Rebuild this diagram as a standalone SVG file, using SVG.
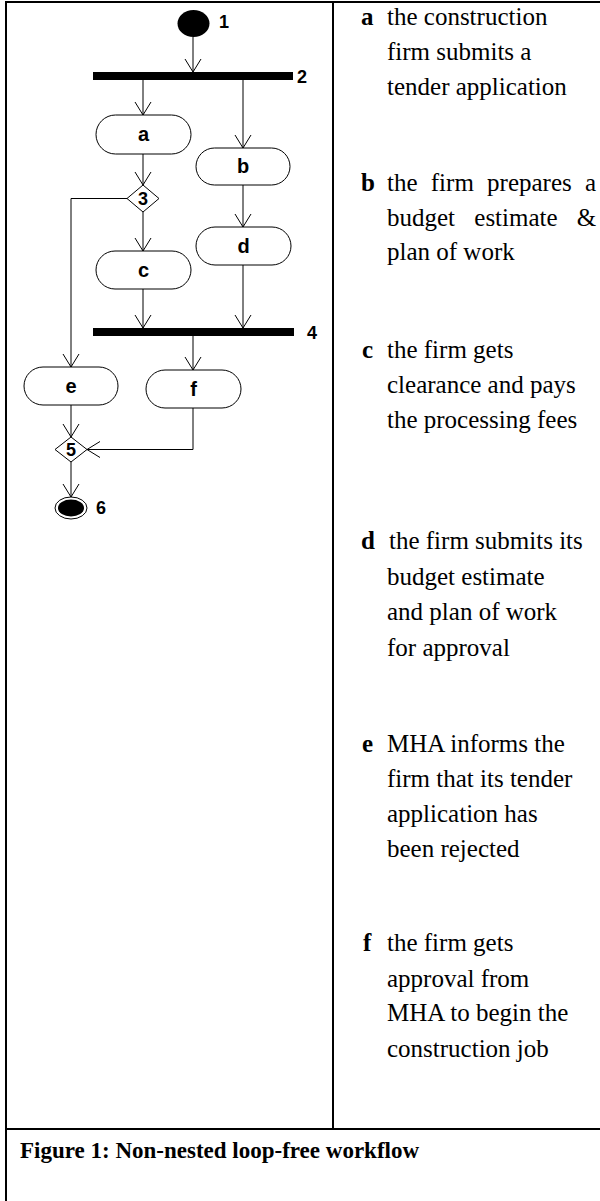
<svg xmlns="http://www.w3.org/2000/svg" width="600" height="1201" viewBox="0 0 600 1201">
<defs>
<marker id="arr" markerUnits="userSpaceOnUse" markerWidth="30" markerHeight="30" refX="0" refY="0" orient="auto" overflow="visible">
<path d="M-13,-8 L0,0 L-13,8" fill="none" stroke="#000" stroke-width="1"/>
</marker>
</defs>
<style>
.frame{stroke:#000;stroke-width:2;fill:none}
.act{fill:#fff;stroke:#000;stroke-width:1}
.bar{fill:#000}
.dia{fill:#fff;stroke:#000;stroke-width:1}
.lbl{font-family:"Liberation Sans",Arial,sans-serif;font-weight:bold;font-size:18px;fill:#000}
.nl{font-family:"Liberation Sans",Arial,sans-serif;font-weight:bold;font-size:20px;fill:#000;text-anchor:middle}
.mid{text-anchor:middle}
.conn path{fill:none;stroke:#000;stroke-width:1;marker-end:url(#arr)}
.body{font-family:"Liberation Serif","Times New Roman",serif;font-size:25px;fill:#000}
.key{font-weight:bold}
.cap{font-family:"Liberation Serif","Times New Roman",serif;font-size:23px;font-weight:bold;fill:#000}
</style>
<rect x="0" y="0" width="600" height="1201" fill="#fff"/>
<g id="frame">
<line class="frame" x1="6" y1="2" x2="600" y2="2"/>
<line class="frame" x1="6" y1="1" x2="6" y2="1201"/>
<line class="frame" x1="333" y1="2" x2="333" y2="1129"/>
<line class="frame" x1="6" y1="1129" x2="600" y2="1129"/>
</g>
<g class="conn" id="connectors">
<path d="M193,37 L193,72"/>
<path d="M143,80 L143,115"/>
<path d="M243,80 L243,148"/>
<path d="M143,154 L143,185"/>
<path d="M127,198.5 L71,198.5 L71,367"/>
<path d="M143,212 L143,251"/>
<path d="M243,185 L243,227"/>
<path d="M143,289 L143,328"/>
<path d="M243,265 L243,328"/>
<path d="M193,336 L193,370"/>
<path d="M71,405 L71,437"/>
<path d="M193,408 L193,449.5 L87,449.5"/>
<path d="M71,462 L71,497"/>
</g>
<g id="n1"><ellipse cx="193.5" cy="23.5" rx="16" ry="13.5" fill="#000"/><text class="lbl" x="219" y="28">1</text></g>
<g id="n2"><rect class="bar" x="93" y="72" width="200" height="8"/><text class="lbl" x="297" y="83">2</text></g>
<g id="na"><rect class="act" x="96" y="115" width="95" height="39" rx="19.5"/><text class="nl" x="143.5" y="141">a</text></g>
<g id="nb"><rect class="act" x="196" y="148" width="94" height="37" rx="18.5"/><text class="nl" x="243" y="173">b</text></g>
<g id="n3"><polygon class="dia" points="143,185 159,198.5 143,212 127,198.5"/><text class="lbl mid" x="143" y="205">3</text></g>
<g id="nc"><rect class="act" x="96" y="251" width="95" height="38" rx="19"/><text class="nl" x="143.5" y="277">c</text></g>
<g id="nd"><rect class="act" x="196" y="227" width="95" height="38" rx="19"/><text class="nl" x="243.5" y="253">d</text></g>
<g id="n4"><rect class="bar" x="93" y="328" width="201" height="8"/><text class="lbl" x="307" y="339">4</text></g>
<g id="ne"><rect class="act" x="24" y="367" width="94" height="38" rx="19"/><text class="nl" x="71" y="393">e</text></g>
<g id="nf"><rect class="act" x="146" y="370" width="95" height="38" rx="19"/><text class="nl" x="193.5" y="396">f</text></g>
<g id="n5"><polygon class="dia" points="71,437 87,449.5 71,462 55,449.5"/><text class="lbl mid" x="71" y="456">5</text></g>
<g id="n6"><ellipse cx="71" cy="508" rx="16" ry="11" fill="#fff" stroke="#000" stroke-width="1"/><ellipse cx="71" cy="508" rx="13" ry="8.5" fill="#000"/><text class="lbl" x="96" y="514">6</text></g>
<g id="legend" class="body">
<text x="361" y="25"><tspan class="key">a</tspan></text>
<text x="387" y="25">the construction</text>
<text x="387" y="60">firm submits a</text>
<text x="387" y="95">tender application</text>
<text x="361" y="191"><tspan class="key">b</tspan></text>
<text x="387" y="191" word-spacing="7">the firm prepares a</text>
<text x="387" y="226" word-spacing="13">budget estimate &amp;</text>
<text x="387" y="260">plan of work</text>
<text x="362" y="358"><tspan class="key">c</tspan></text>
<text x="387" y="358">the firm gets</text>
<text x="387" y="393">clearance and pays</text>
<text x="387" y="428">the processing fees</text>
<text x="361" y="549"><tspan class="key">d</tspan></text>
<text x="389" y="549">the firm submits its</text>
<text x="387" y="585">budget estimate</text>
<text x="387" y="620">and plan of work</text>
<text x="387" y="656">for approval</text>
<text x="362" y="752"><tspan class="key">e</tspan></text>
<text x="387" y="752">MHA informs the</text>
<text x="387" y="787">firm that its tender</text>
<text x="387" y="822">application has</text>
<text x="387" y="857">been rejected</text>
<text x="363" y="951"><tspan class="key">f</tspan></text>
<text x="387" y="951">the firm gets</text>
<text x="387" y="987">approval from</text>
<text x="387" y="1021">MHA to begin the</text>
<text x="387" y="1057">construction job</text>
</g>
<text class="cap" x="20" y="1158">Figure 1: Non-nested loop-free workflow</text>
</svg>
